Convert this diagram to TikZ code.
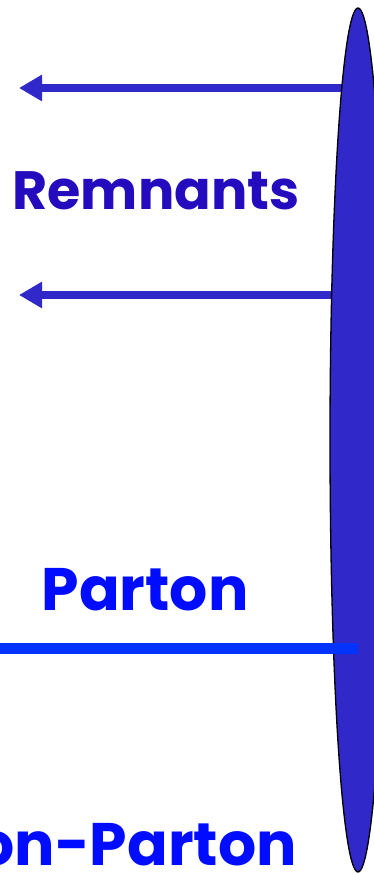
\documentclass[tikz,border=0pt]{standalone}
\usepackage{fontspec}
\setmainfont{Poppins}
\usetikzlibrary{positioning,shapes.geometric,arrows.meta,backgrounds}
\definecolor{hadronfill}{RGB}{48,40,200}
\definecolor{remnantblue}{RGB}{36,12,190}
\definecolor{partonblue}{RGB}{0,12,255}
\definecolor{partonline}{RGB}{0,51,255}
\tikzset{
  remnant/.style={draw=hadronfill, line width=8pt, -{Triangle[length=23pt,width=25pt]}},
  label/.style={inner sep=0pt, font=\fontsize{60}{60}\selectfont\bfseries}
}
\begin{document}
\begin{tikzpicture}[x=1pt, y=-1pt]
  \useasboundingbox (0,0) rectangle (374,874);
  % hadron
  \node[ellipse, draw=black, line width=1.3pt, fill=hadronfill,
        minimum width=56pt, minimum height=864pt, inner sep=0pt] (hadron) at (358,440) {};
  % remnants
  \coordinate (tip1) at (19,88);
  \coordinate (tip2) at (19,295);
  \begin{scope}[on background layer]
    \draw[remnant] (hadron.center |- tip1) -- (tip1);
    \draw[remnant] (hadron.center |- tip2) -- (tip2);
  \end{scope}
  \node[label, font=\fontsize{54}{54}\selectfont\bfseries, text=remnantblue, anchor=base] (remnants) at (156,210) {Remnants};
  % parton
  \node[label, text=partonblue, anchor=base] (parton) at (145,610) {Parton};
  \coordinate (start) at (0,648);
  \draw[partonline, line width=11pt] (start) -- (hadron.center |- start);
  \node[label, text=partonblue, anchor=base east] (pp) at (297,865) {Parton-Parton};
\end{tikzpicture}
\end{document}
